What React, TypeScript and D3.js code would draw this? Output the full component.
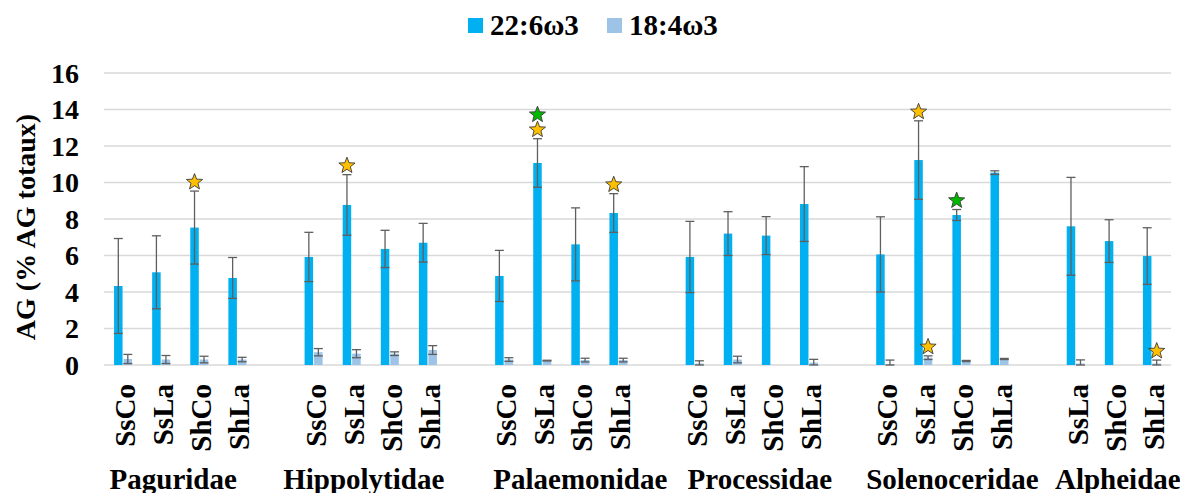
import React from "react";
import * as d3 from "d3";

// ---- data ----
const families = ["Paguridae", "Hippolytidae", "Palaemonidae", "Processidae", "Solenoceridae", "Alpheidae"];
const familyCategories: string[][] = [
  ["SsCo", "SsLa", "ShCo", "ShLa"],
  ["SsCo", "SsLa", "ShCo", "ShLa"],
  ["SsCo", "SsLa", "ShCo", "ShLa"],
  ["SsCo", "SsLa", "ShCo", "ShLa"],
  ["SsCo", "SsLa", "ShCo", "ShLa"],
  ["SsLa", "ShCo", "ShLa"],
];
const seriesNames = ["22:6ω3", "18:4ω3"];

// 22:6ω3 means and SD, per family
const dhaValues: number[][] = [
  [4.33, 5.08, 7.53, 4.77],
  [5.92, 8.77, 6.36, 6.7],
  [4.88, 11.07, 6.61, 8.33],
  [5.92, 7.2, 7.09, 8.82],
  [6.06, 11.23, 8.22, 10.54],
  [7.6, 6.79, 5.97],
];
const dhaErrors: number[][] = [
  [2.6, 2.0, 2.0, 1.12],
  [1.35, 1.66, 1.02, 1.06],
  [1.4, 1.33, 2.0, 1.06],
  [1.95, 1.2, 1.04, 2.05],
  [2.06, 2.15, 0.3, 0.1],
  [2.68, 1.17, 1.55],
];
// 18:4ω3 means and SD, per family (null = no value)
const sdaValues: (number | null)[][] = [
  [0.33, 0.3, 0.3, 0.3],
  [0.7, 0.62, 0.62, 0.82],
  [0.3, 0.24, 0.27, 0.27],
  [0.08, 0.3, null, 0.13],
  [0.05, 0.4, 0.22, 0.33],
  [0.08, null, 0.08],
];
const sdaErrors: (number | null)[][] = [
  [0.25, 0.22, 0.18, 0.12],
  [0.2, 0.22, 0.1, 0.24],
  [0.1, 0.02, 0.1, 0.1],
  [0.15, 0.18, null, 0.18],
  [0.22, 0.1, 0.03, 0.03],
  [0.2, null, 0.19],
];
// significance stars: family index, category index, series index, colours (bottom to top)
const stars: { f: number; c: number; s: number; colors: string[] }[] = [
  { f: 0, c: 2, s: 0, colors: ["orange"] },
  { f: 1, c: 1, s: 0, colors: ["orange"] },
  { f: 2, c: 1, s: 0, colors: ["orange", "green"] },
  { f: 2, c: 3, s: 0, colors: ["orange"] },
  { f: 4, c: 1, s: 0, colors: ["orange"] },
  { f: 4, c: 1, s: 1, colors: ["orange"] },
  { f: 4, c: 2, s: 0, colors: ["green"] },
  { f: 5, c: 2, s: 1, colors: ["orange"] },
];
const yTicks = [0, 2, 4, 6, 8, 10, 12, 14, 16];

// ---- layout ----
const W = 1180;
const H = 493;
const left = 104;
const right = 1171;
const top = 73;
const bottom = 365;
const FONT = '"Liberation Serif", "DejaVu Serif", serif';
const colors = ["#00B0F0", "#9DC3E6"];
const starColors: Record<string, string> = { orange: "#FFC000", green: "#00B800" };
const txt: React.CSSProperties = { fontFamily: FONT, fontWeight: 700 };
// family text boxes are placed by hand in the original, not exactly centred
const familyLabelNudge = [-7, -7, 19, 8, 10, 4];

type Slot = { key: string; f: number; c: number; label: string } | { key: string; gap: true };

const slots: Slot[] = [];
familyCategories.forEach((cats, f) => {
  if (f > 0) slots.push({ key: `gap${f}`, gap: true });
  cats.forEach((label, c) => slots.push({ key: `${f}-${c}`, f, c, label }));
});

function starPath(cx: number, cy: number, R: number, r: number) {
  const pts: string[] = [];
  for (let i = 0; i < 10; i++) {
    const rad = i % 2 === 0 ? R : r;
    const a = -Math.PI / 2 + (i * Math.PI) / 5;
    pts.push(`${(cx + rad * Math.cos(a)).toFixed(2)},${(cy + rad * Math.sin(a)).toFixed(2)}`);
  }
  return "M" + pts.join("L") + "Z";
}

export default function App() {
  const x0 = d3.scaleBand<string>().domain(slots.map((s) => s.key)).range([left, right]).padding(0);
  const bw = x0.bandwidth();
  const x1 = d3.scaleBand<string>().domain(seriesNames).range([bw / 2 - 9.5, bw / 2 + 9.5]).padding(0);
  const y = d3.scaleLinear().domain([0, 16]).range([bottom, top]);

  const valueOf = (s: number, f: number, c: number) => (s === 0 ? dhaValues[f][c] : sdaValues[f][c]);
  const errOf = (s: number, f: number, c: number) => (s === 0 ? dhaErrors[f][c] : sdaErrors[f][c]);
  const barCenter = (f: number, c: number, s: number) =>
    (x0(`${f}-${c}`) as number) + (x1(seriesNames[s]) as number) + x1.bandwidth() / 2;

  const catSlots = slots.filter((s): s is { key: string; f: number; c: number; label: string } => !("gap" in s));

  return (
    <svg width={W} height={H} style={{ position: "absolute", left: 0, top: 0, background: "#fff" }}>
      <rect x={0} y={0} width={W} height={H} fill="#fff" />
      {/* gridlines */}
      {yTicks.map((t) => (
        <line key={t} x1={left} x2={right} y1={y(t)} y2={y(t)} stroke="#D9D9D9" strokeWidth={1.5} />
      ))}
      {/* y tick labels */}
      {yTicks.map((t) => (
        <text key={t} x={79} y={y(t)} dy="0.35em" textAnchor="end" fontSize={28} style={txt} fill="#000">
          {t}
        </text>
      ))}
      {/* y title */}
      <text transform={`translate(35,${(top + bottom) / 2 + 8}) rotate(-90)`} textAnchor="middle" fontSize={28} style={txt}>
        AG (% AG totaux)
      </text>
      {/* bars */}
      {catSlots.map((sl) =>
        seriesNames.map((sn, s) => {
          const v = valueOf(s, sl.f, sl.c);
          if (v == null) return null;
          const xx = (x0(sl.key) as number) + (x1(sn) as number);
          return (
            <rect key={sl.key + sn} x={xx + 0.5} y={y(v)} width={x1.bandwidth() - 1} height={y(0) - y(v)} fill={colors[s]} />
          );
        })
      )}
      {/* error bars */}
      {catSlots.map((sl) =>
        seriesNames.map((sn, s) => {
          const v = valueOf(s, sl.f, sl.c);
          const e = errOf(s, sl.f, sl.c);
          if (v == null || e == null) return null;
          const cx = barCenter(sl.f, sl.c, s);
          const yt = y(v + e);
          const yb = y(Math.max(0, v - e));
          return (
            <g key={"e" + sl.key + sn} stroke="#5F5F5F" strokeWidth={1.3}>
              <line x1={cx} x2={cx} y1={yt} y2={yb} />
              <line x1={cx - 4.5} x2={cx + 4.5} y1={yt} y2={yt} />
              <line x1={cx - 4.5} x2={cx + 4.5} y1={yb} y2={yb} />
            </g>
          );
        })
      )}
      {/* stars */}
      {stars.map((st, i) => {
        const v = valueOf(st.s, st.f, st.c) as number;
        const e = (errOf(st.s, st.f, st.c) as number) || 0;
        const cx = barCenter(st.f, st.c, st.s);
        const base = y(v + e) - 10;
        return st.colors.map((col, k) => (
          <path
            key={i + "-" + k}
            d={starPath(cx, base - k * 15 + 1, 8.5, 3.6)}
            fill={starColors[col]}
            stroke="#3A3A3A"
            strokeWidth={0.9}
          />
        ));
      })}
      {/* x category labels */}
      {catSlots.map((sl) => {
        const cx = (x0(sl.key) as number) + bw / 2;
        return (
          <text
            key={"l" + sl.key}
            transform={`translate(${cx + 12},384) rotate(-90)`}
            textAnchor="end"
            fontSize={29}
            style={txt}
          >
            {sl.label}
          </text>
        );
      })}
      {/* family labels */}
      {families.map((fam, f) => {
        const n = familyCategories[f].length;
        const a = x0(`${f}-0`) as number;
        const b = (x0(`${f}-${n - 1}`) as number) + bw;
        return (
          <text key={fam} x={(a + b) / 2 + familyLabelNudge[f]} y={489} textAnchor="middle" fontSize={29} style={txt}>
            {fam}
          </text>
        );
      })}
      {/* legend */}
      {seriesNames.map((sn, s) => {
        const lx = s === 0 ? 468 : 607;
        return (
          <g key={"lg" + sn}>
            <rect x={lx} y={18} width={15} height={15} fill={colors[s]} />
            <text x={lx + 22} y={35} fontSize={29} style={txt}>
              {sn}
            </text>
          </g>
        );
      })}
    </svg>
  );
}
